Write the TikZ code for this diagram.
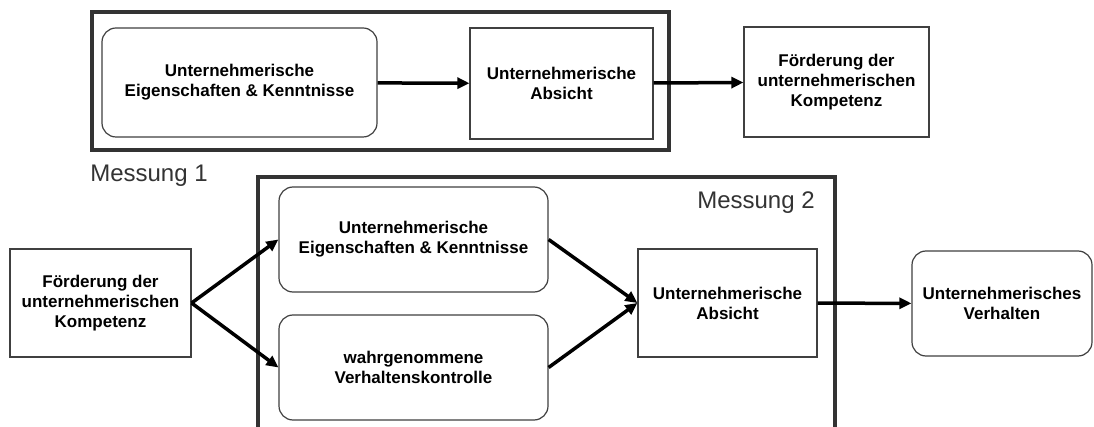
\documentclass[tikz,border=0pt]{standalone}
\usepackage{fontspec}
\setmainfont{Liberation Sans}
\usepackage{tikz}
\usetikzlibrary{arrows.meta,positioning,calc}

\begin{document}
\begin{tikzpicture}[
    x=1pt, y=-1pt,
    box/.style={rectangle, draw=black!75, line width=1.2pt, inner sep=0pt, align=center,
        font=\fontsize{17}{20}\selectfont\bfseries},
    roundbox/.style={box, rounded corners=14pt},
    frame/.style={draw=black!80, line width=4pt},
    label/.style={font=\fontsize{24}{28}\selectfont, text=black!80},
    arrow/.style={-{Triangle[length=12pt,width=11pt]}, line width=3.5pt}
]
\clip (0,0) rectangle (1094,427);
\fill[white] (0,0) rectangle (1094,427);

% Messung 1 (oben)
\draw[frame] (92,12) rectangle (669,150);
\node[roundbox, minimum width=275pt, minimum height=109pt] (eigA) at (239.5,82.5) {Unternehmerische\\Eigenschaften \& Kenntnisse};
\node[box, minimum width=183pt, minimum height=111pt] (absA) at (561.5,83.5) {Unternehmerische\\Absicht};
\node[box, minimum width=185pt, minimum height=110pt] (foerA) at (836.5,82) {Förderung der\\unternehmerischen\\Kompetenz};

% Messung 2 (unten)
\draw[frame] (258,177) rectangle (835,460);
\node[box, minimum width=181pt, minimum height=108pt] (foerB) at (100.5,303) {Förderung der\\unternehmerischen\\Kompetenz};
\node[roundbox, minimum width=269pt, minimum height=105pt] (eigB) at (413.5,239.5) {Unternehmerische\\Eigenschaften \& Kenntnisse};
\node[roundbox, minimum width=269pt, minimum height=105pt] (kontB) at (413.5,367.5) {wahrgenommene\\Verhaltenskontrolle};
\node[box, minimum width=179pt, minimum height=108pt] (absB) at (727.5,303) {Unternehmerische\\Absicht};
\node[roundbox, minimum width=180pt, minimum height=105pt] (verhB) at (1002,303.5) {Unternehmerisches\\Verhalten};

% Labels
\node[label] (mess1) at (149,176) {Messung 1};
\node[label] (mess2) at (756,203) {Messung 2};

% Arrows
\draw[arrow] (eigA) -- (absA);
\draw[arrow] (absA) -- (foerA);
\draw[arrow] (foerB.east) -- (eigB.west);
\draw[arrow] (foerB.east) -- (kontB.west);
\draw[arrow] (eigB.east) -- (absB.west);
\draw[arrow] (kontB.east) -- (absB.west);
\draw[arrow] (absB) -- (verhB);

\end{tikzpicture}
\end{document}
